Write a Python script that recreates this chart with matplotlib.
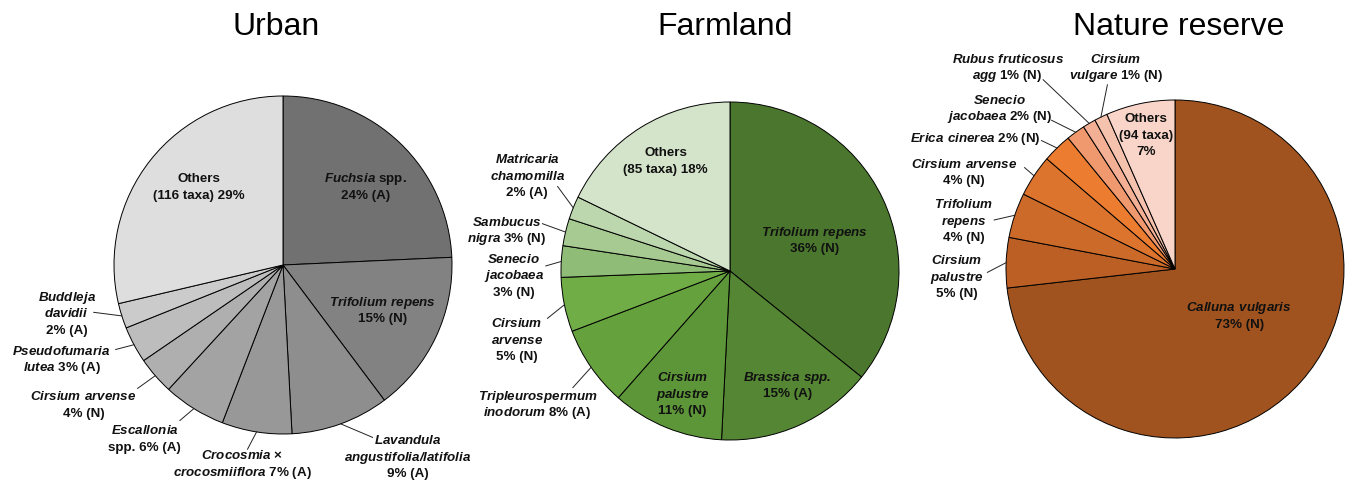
import numpy as np
import matplotlib
matplotlib.use("Agg")
import matplotlib.pyplot as plt

# fonts
plt.rcParams['font.family'] = ['Liberation Sans', 'DejaVu Sans']
plt.rcParams['mathtext.fontset'] = 'custom'
plt.rcParams['mathtext.rm'] = 'Liberation Sans:bold'
plt.rcParams['mathtext.bfit'] = 'Liberation Sans:italic:bold'

# ---- data (percent of visits, read from the wedges) ----
urban_vals = [24.3, 15.5, 9.4, 6.7, 6.0, 3.6, 3.5, 2.4, 28.7]
urban_labels = [
    "$\\mathbfit{Fuchsia}$ spp.\n24% (A)",
    "$\\mathbfit{Trifolium\\ repens}$\n15% (N)",
    "$\\mathbfit{Lavandula}$\n$\\mathbfit{angustifolia/latifolia}$\n9% (A)",
    "$\\mathbfit{Crocosmia}$ ×\n$\\mathbfit{crocosmiiflora}$ 7% (A)",
    "$\\mathbfit{Escallonia}$\nspp. 6% (A)",
    "$\\mathbfit{Cirsium\\ arvense}$\n4% (N)",
    "$\\mathbfit{Pseudofumaria}$\n$\\mathbfit{lutea}$ 3% (A)",
    "$\\mathbfit{Buddleja}$\n$\\mathbfit{davidii}$\n2% (A)",
    "Others\n(116 taxa) 29%",
]
urban_colors = ['#717171', '#828282', '#8e8e8e', '#989898', '#a3a3a3',
                '#afafaf', '#bdbdbd', '#cbcbcb', '#dedede']

farm_vals = [35.8, 15.0, 10.7, 7.7, 5.2, 3.0, 2.6, 2.2, 17.8]
farm_labels = [
    "$\\mathbfit{Trifolium\\ repens}$\n36% (N)",
    "$\\mathbfit{Brassica\\ spp.}$\n15% (A)",
    "$\\mathbfit{Cirsium}$\n$\\mathbfit{palustre}$\n11% (N)",
    "$\\mathbfit{Tripleurospermum}$\n$\\mathbfit{inodorum}$ 8% (A)",
    "$\\mathbfit{Cirsium}$\n$\\mathbfit{arvense}$\n5% (N)",
    "$\\mathbfit{Senecio}$\n$\\mathbfit{jacobaea}$\n3% (N)",
    "$\\mathbfit{Sambucus}$\n$\\mathbfit{nigra}$ 3% (N)",
    "$\\mathbfit{Matricaria}$\n$\\mathbfit{chamomilla}$\n2% (A)",
    "Others\n(85 taxa) 18%",
]
farm_colors = ['#4a772d', '#548633', '#5d9638', '#65a23d', '#70ad47',
               '#8fbc76', '#a6ca92', '#bcd7ad', '#d4e4ca']

nature_vals = [73.2, 4.8, 4.3, 4.0, 2.8, 1.8, 1.25, 1.25, 6.6]
nature_labels = [
    "$\\mathbfit{Calluna\\ vulgaris}$\n73% (N)",
    "$\\mathbfit{Cirsium}$\n$\\mathbfit{palustre}$\n5% (N)",
    "$\\mathbfit{Trifolium}$\n$\\mathbfit{repens}$\n4% (N)",
    "$\\mathbfit{Cirsium\\ arvense}$\n4% (N)",
    "$\\mathbfit{Erica\\ cinerea}$ 2% (N)",
    "$\\mathbfit{Senecio}$\n$\\mathbfit{jacobaea}$ 2% (N)",
    "$\\mathbfit{Rubus\\ fruticosus}$\n$\\mathbfit{agg}$ 1% (N)",
    "$\\mathbfit{Cirsium}$\n$\\mathbfit{vulgare}$ 1% (N)",
    "Others\n(94 taxa)\n7%",
]
nature_colors = ['#a0531e', '#bb5f25', '#cc6a2a', '#dc742e', '#ec7c30',
                 '#f0996e', '#f3b094', '#f5c2ae', '#f8d5c8']

# ---- layout: label centres in pie-radius units, leader start (None = inside) ----
urban_pos = [(0.49, 0.47), (0.59, -0.26), (0.74, -1.13), (-0.24, -1.17),
             (-0.82, -1.02), (-1.18, -0.82), (-1.31, -0.55), (-1.28, -0.28),
             (-0.50, 0.47)]
urban_lead = [None, None, (0.53, -1.02), (-0.21, -1.09), (-0.61, -0.92),
              (-0.86, -0.73), (-0.99, -0.50), (-1.12, -0.28), None]

farm_pos = [(0.50, 0.19), (0.34, -0.67), (-0.28, -0.72), (-1.14, -0.78),
            (-1.26, -0.40), (-1.28, -0.02), (-1.32, 0.25), (-1.20, 0.57),
            (-0.38, 0.66)]
farm_lead = [None, None, None, (-0.93, -0.69), (-1.08, -0.28), (-1.09, 0.03),
             (-1.11, 0.28), (-1.02, 0.50), None]

nature_pos = [(0.38, -0.27), (-1.29, -0.04), (-1.25, 0.29), (-1.25, 0.58),
              (-1.18, 0.78), (-1.04, 0.96), (-0.99, 1.20), (-0.35, 1.20),
              (-0.17, 0.80)]
nature_lead = [None, (-1.11, -0.02), (-1.07, 0.29), (-0.89, 0.60),
               (-0.79, 0.76), (-0.73, 0.88), (-0.78, 1.12), (-0.40, 1.09), None]

W, H = 1352, 483
R = 169
LINE = 16.5 / R   # line pitch of the labels
CAP = 5.0 / R     # half cap height, to centre the block

fig = plt.figure(figsize=(W / 100, H / 100), dpi=100)


def put_label(ax, x, y, label):
    # one Text per line so mixed italic/plain lines keep an even pitch
    lines = label.split("\n")
    top = y + (len(lines) - 1) / 2 * LINE - CAP
    for i, line in enumerate(lines):
        ax.text(x, top - i * LINE, line, ha='center', va='baseline', fontsize=9.6,
                fontweight='bold', color='#111111', clip_on=False)


def draw_pie(cx, cy, vals, labels, colors, pos, lead, title, title_x):
    ax = fig.add_axes([(cx - R) / W, (H - cy - R) / H, 2 * R / W, 2 * R / H])
    wedges, _ = ax.pie(vals, colors=colors, startangle=90, counterclock=False,
                       radius=1.0, wedgeprops=dict(edgecolor='black', linewidth=0.7))
    ax.set_xlim(-1, 1)
    ax.set_ylim(-1, 1)
    ax.set_aspect('equal')
    ax.axis('off')
    for w, lab, p, ld in zip(wedges, labels, pos, lead):
        put_label(ax, p[0], p[1], lab)
        if ld is not None:
            mid = np.deg2rad((w.theta1 + w.theta2) / 2)
            ax.plot([ld[0], np.cos(mid)], [ld[1], np.sin(mid)], color='#222222',
                    lw=0.7, clip_on=False)
    fig.text(title_x / W, 1 - 35 / H, title, ha='center', va='baseline',
             fontsize=23)


draw_pie(283, 265, urban_vals, urban_labels, urban_colors, urban_pos, urban_lead, "Urban", 276)
draw_pie(730, 271, farm_vals, farm_labels, farm_colors, farm_pos, farm_lead, "Farmland", 725)
draw_pie(1175, 269, nature_vals, nature_labels, nature_colors, nature_pos, nature_lead,
         "Nature reserve", 1179)

fig.savefig("out.png", dpi=100)
